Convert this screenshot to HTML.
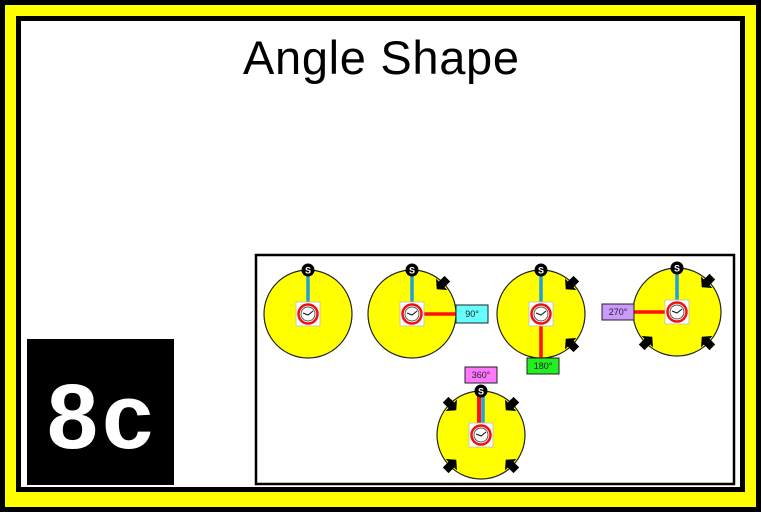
<!DOCTYPE html>
<html><head><meta charset="utf-8"><style>
html,body{margin:0;padding:0;background:#fff;}
svg{display:block;}
text{font-family:"Liberation Sans",sans-serif;}
</style></head><body>
<svg id="s" width="761" height="512" viewBox="0 0 761 512">
  <rect x="0" y="0" width="761" height="512" fill="#000"/>
  <rect x="5" y="5" width="751" height="502" fill="#ffff00"/>
  <rect x="16" y="16" width="729" height="476" fill="#000"/>
  <rect x="21" y="21" width="719" height="466" fill="#fff"/>
  <text x="381" y="74" text-anchor="middle" font-size="47" fill="#000" textLength="276">Angle Shape</text>
  <rect x="27" y="339" width="147" height="146" fill="#000"/>
  <text x="102" y="448" text-anchor="middle" font-size="92" font-weight="bold" letter-spacing="4" fill="#fff">8c</text>
  <rect x="256" y="255" width="478" height="229" fill="#fff" stroke="#000" stroke-width="2.5"/>
  <g id="diagrams"></g>
</svg>
<script>
const labels = ["", "90°", "180°", "270°", "360°"];
const angles = [0, 90, 180, 270, 360];
const centersX = [308, 412, 541, 677, 481];
const centersY = [314, 314, 314, 312, 435];
const labelColors = ["", "#66ffff", "#22ee22", "#cc99ff", "#ff77ff"];
const NS = "http://www.w3.org/2000/svg";
const g = document.getElementById("diagrams");
function el(tag, attrs, parent){const e=document.createElementNS(NS,tag);for(const k in attrs)e.setAttribute(k,attrs[k]);(parent||g).appendChild(e);return e;}
const R = 44;
angles.forEach((a,i)=>{
  const cx=centersX[i], cy=centersY[i];
  const grp=el("g",{});
  
  
  const c=el("circle",{cx:cx,cy:cy,r:R,fill:"#ffff00",stroke:"#222","stroke-width":1.2},grp);
  
  
  const nArrows = a===90?1:a===180?2:a===270?3:a===360?4:0;
  const arrowAngles=[45,135,225,315];
  for(let k=0;k<nArrows;k++){
    const t=arrowAngles[k]*Math.PI/180;
    const ax=cx+R*Math.sin(t), ay=cy-R*Math.cos(t);
    const rot=arrowAngles[k]+90;
    const ar=el("path",{d:"M-6,-4 L2,-4 L2,-8 L9,0 L2,8 L2,4 L-6,4 Z",fill:"#000",transform:`translate(${ax},${ay}) rotate(${rot})`},grp);
    
    
  }
  if(a>0){
    let ex=cx, ey=cy;
    if(a===90){ex=cx+R;} else if(a===180){ey=cy+R;} else if(a===270){ex=cx-R;}
    if(a===360){
      const r=el("line",{x1:cx-2,y1:cy,x2:cx-2,y2:cy-R,stroke:"#ff1111","stroke-width":4},grp);
      
      
    } else {
      const r=el("line",{x1:cx,y1:cy,x2:ex,y2:ey,stroke:"#ff1111","stroke-width":3.5},grp);
      
      
    }
  }
  const b=el("line",{x1:a===360?cx+2:cx,y1:cy,x2:a===360?cx+2:cx,y2:cy-R,stroke:"#1fa0e0","stroke-width":3.5},grp);
  
  
  const ck=el("rect",{x:cx-12,y:cy-12,width:24,height:24,fill:"#fff",stroke:"#bbb","stroke-width":0.8},grp);
  
  
  el("circle",{cx:cx,cy:cy,r:9.5,fill:"#fff",stroke:"#ee1111","stroke-width":2.5},grp);
  el("circle",{cx:cx,cy:cy,r:7,fill:"#fff",stroke:"#555","stroke-width":1},grp);
  el("path",{d:`M${cx-5},${cy-1} L${cx},${cy+1} L${cx+5},${cy-3}`,fill:"none",stroke:"#111","stroke-width":1},grp);
  const sb=el("circle",{cx:cx,cy:cy-R,r:6.5,fill:"#000"},grp);
  
  
  const st=el("text",{x:cx,y:cy-R+3.5,"text-anchor":"middle","font-size":9,"font-weight":"bold",fill:"#fff"},grp);
  st.textContent="S";
  if(labels[i]){
    let lx,ly;
    if(a===90){lx=cx+R;ly=cy-9;} else if(a===180){lx=cx-14;ly=cy+R;} else if(a===270){lx=cx-R-31;ly=cy-8;} else {lx=cx-16;ly=367;}
    const w=32, h=a===90?18:16;
    const lb=el("rect",{x:lx,y:ly,width:w,height:h,fill:labelColors[i],stroke:"#222","stroke-width":1},grp);
    
    
    const lt=el("text",{x:lx+w/2,y:ly+h/2+3,"text-anchor":"middle","font-size":9,fill:"#222"},grp);
    
    
    lt.textContent=labels[i];
  }
});
</script>
</body></html>
